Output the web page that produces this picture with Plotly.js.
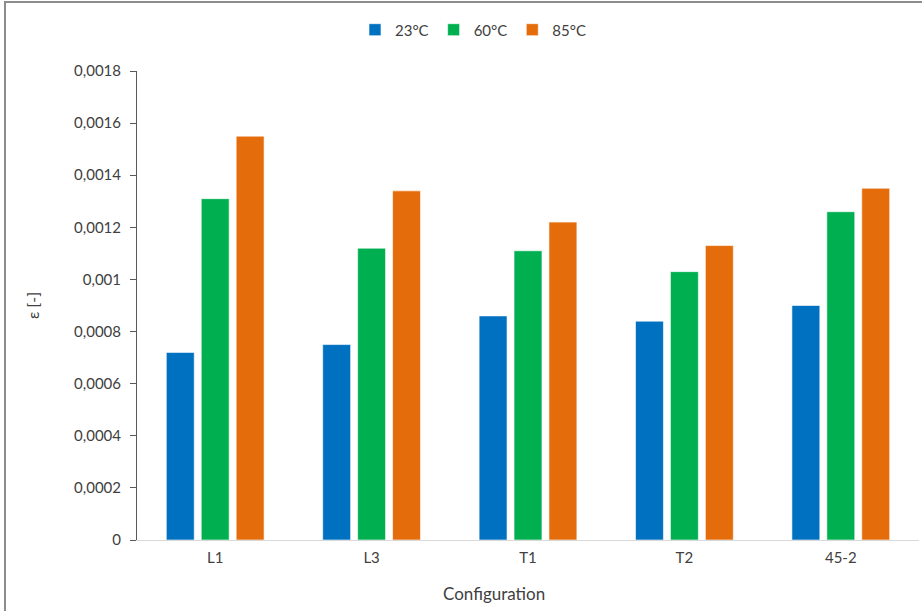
<!DOCTYPE html>
<html>
<head>
<meta charset="utf-8">
<script src="https://cdn.plot.ly/plotly-3.0.1.min.js"></script>
<style>
html,body{margin:0;padding:0;background:#fff;}
#wrap{position:absolute;left:0;top:0;width:922px;height:611px;overflow:hidden;}
#frame{position:absolute;left:4px;top:1px;width:1000px;height:700px;border-left:2px solid #8c8c8c;border-top:2px solid #8c8c8c;pointer-events:none;}
#chart{position:absolute;left:0;top:0;width:922px;height:611px;}
</style>
</head>
<body>
<div id="wrap"><div id="chart"></div><div id="frame"></div></div>
<script>
const categories = ["L1", "L3", "T1", "T2", "45-2"];
const seriesNames = ["23°C", "60°C", "85°C"];
const values23 = [0.00072, 0.00075, 0.00086, 0.00084, 0.00090];
const values60 = [0.00131, 0.00112, 0.00111, 0.00103, 0.00126];
const values85 = [0.00155, 0.00134, 0.00122, 0.00113, 0.00135];
const yTickVals = [0, 0.0002, 0.0004, 0.0006, 0.0008, 0.001, 0.0012, 0.0014, 0.0016, 0.0018];
const yTickText = ["0", "0,0002", "0,0004", "0,0006", "0,0008", "0,001", "0,0012", "0,0014", "0,0016", "0,0018"];
const xTitle = "Configuration";
const colors = ["#0070C0", "#00B050", "#E46C0A"];

const allValues = [values23, values60, values85];
const traces = allValues.map((v, i) => ({
  type: "bar",
  name: seriesNames[i],
  x: categories,
  y: v,
  marker: {color: colors[i], line: {color: "rgba(255,255,255,0.6)", width: 1}},
  hoverinfo: "x+y"
}));

const fam = "Lato, 'Open Sans', sans-serif";
const font = {family: fam, size: 15, color: "#404040"};
const layout = {
  width: 922, height: 611,
  margin: {l: 137, r: 3, t: 71, b: 71},
  paper_bgcolor: "#ffffff", plot_bgcolor: "#ffffff",
  font: font,
  separators: ", ",
  barmode: "group",
  bargap: 0.33,
  bargroupgap: 0.2,
  showlegend: true,
  legend: {orientation: "h", x: 0.513, xref: "container", xanchor: "center", y: 0.978, yref: "container", yanchor: "top",
           font: {family: fam, size: 15, color: "#404040"}, itemwidth: 30, traceorder: "normal"},
  xaxis: {
    type: "category",
    showline: true, linecolor: "#d9d9d9", linewidth: 1,
    ticks: "", showgrid: false, zeroline: false,
    tickfont: {family: fam, size: 15, color: "#404040"},
    ticklabelstandoff: 4
  },
  yaxis: {
    range: [0, 0.0018],
    tickmode: "array", tickvals: yTickVals, ticktext: yTickText,
    showline: true, linecolor: "#595959", linewidth: 1,
    ticks: "outside", ticklen: 6, tickcolor: "#595959",
    ticklabelstandoff: 6,
    showgrid: false, zeroline: false,
    tickfont: {family: fam, size: 15, color: "#404040"},
    title: {text: "ε [-]", font: {family: fam, size: 16, color: "#404040"}, standoff: 30}
  },
  annotations: [{
    text: xTitle, xref: "paper", yref: "paper", x: 0.4565, y: -0.115,
    xanchor: "center", yanchor: "middle", showarrow: false,
    font: {family: fam, size: 17, color: "#404040"}
  }]
};

Plotly.newPlot("chart", traces, layout, {displayModeBar: false, staticPlot: true});
</script>
</body>
</html>
